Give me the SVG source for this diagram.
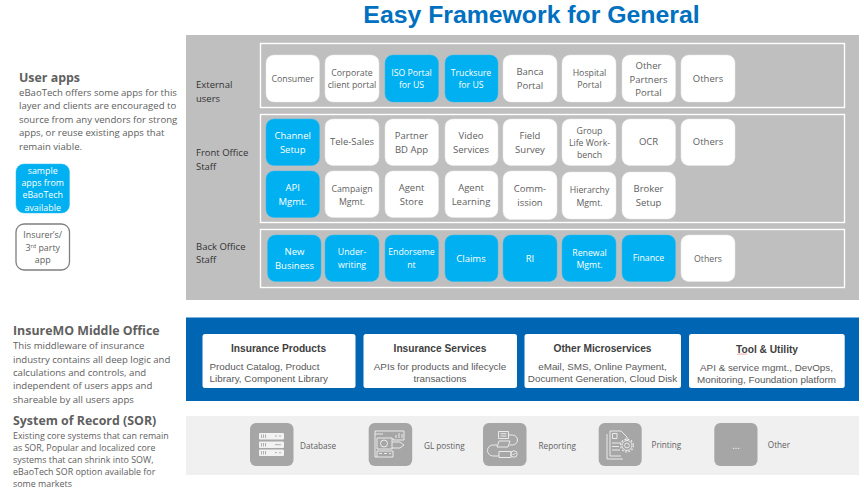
<svg xmlns="http://www.w3.org/2000/svg" width="864" height="489" viewBox="0 0 864 489">
<defs>
<style>
text{font-family:"Open Sans","Noto Sans",sans-serif;fill:#606060;font-size:9.5px}
.c{text-anchor:middle}
.t{font-size:8.750px}
.w{fill:#fff}
.k{fill:#333}
.h{font-size:12.400px;font-weight:700}
.b{font-size:9.600px}
.d{font-size:8.900px}
.l{font-size:8.900px}
.f{font-size:8.200px}
.a{font-family:"Liberation Sans",Arial,sans-serif}
.at{font-family:"Liberation Sans",Arial,sans-serif;font-size:10.200px;font-weight:700;text-anchor:middle;fill:#404040}
.ab{font-family:"Liberation Sans",Arial,sans-serif;font-size:9.850px;fill:#595959}
.n{fill:#fff;stroke:#e8e8e8;stroke-width:.5}
.s{fill:#00b0f0;stroke:#33bdf0;stroke-width:.5}
.row{fill:none;stroke:#fff;stroke-width:1.4}
.card{fill:#fff}
.ic{fill:#a6a6a6}
.il{fill:none;stroke:#f2f2f2;stroke-width:.9}
.if{fill:#f2f2f2}
</style>
</defs>
<rect width="864" height="489" fill="#fff"/>
<text id="title" x="531.500" y="23" class="c a" style="font-size:24.800px;font-weight:700;fill:#0070c0">Easy Framework for General</text>

<g id="user-apps-text">
<text x="19" y="82" class="h">User apps</text>
<text class="b" x="19" y="96">eBaoTech offers some apps for this</text>
<text class="b" x="19" y="109">layer and clients are encouraged to</text>
<text class="b" x="19" y="123">source from any vendors for strong</text>
<text class="b" x="19" y="136">apps, or reuse existing apps that</text>
<text class="b" x="19" y="150">remain viable.</text>
</g>
<g id="legend-sample">
<rect x="16" y="164" width="53.500" height="49" rx="8" class="s"/>
<text class="c w l" x="42.700" y="174">sample</text>
<text class="c w l" x="42.700" y="186">apps from</text>
<text class="c w l" x="42.700" y="198">eBaoTech</text>
<text class="c w l" x="42.700" y="210.500">available</text>
</g>
<g id="legend-insurer">
<rect x="16" y="224" width="53.500" height="46" rx="8" fill="#fff" stroke="#7f7f7f" stroke-width="1.300"/>
<text class="c l" x="42.700" y="238">Insurer’s/</text>
<text class="c l" x="42.700" y="250.500">3<tspan font-size="5.500" dy="-3">rd</tspan><tspan dy="3"> party</tspan></text>
<text class="c l" x="42.700" y="263">app</text>
</g>

<g id="user-panel">
<rect x="186" y="35" width="673" height="265" fill="#bfbfbf"/>
<rect x="260.500" y="43.500" width="584" height="64" class="row"/>
<rect x="260.500" y="114.500" width="584" height="108" class="row"/>
<rect x="260.500" y="229.500" width="584" height="58" class="row"/>
<text class="k" x="196" y="88">External</text>
<text class="k" x="196" y="102">users</text>
<text class="k" x="196" y="156">Front Office</text>
<text class="k" x="196" y="170">Staff</text>
<text class="k" x="196" y="250">Back Office</text>
<text class="k" x="196" y="263">Staff</text>
</g>

<g id="n-consumer"><rect x="266" y="55" width="53.500" height="47" rx="8" class="n"/><text class="c t" x="292.700" y="82">Consumer</text></g>
<g id="n-corporate"><rect x="325" y="55" width="54" height="47" rx="8" class="n"/><text class="c t" x="352" y="76">Corporate</text><text class="c t" x="352" y="88">client portal</text></g>
<g id="n-iso"><rect x="385" y="55" width="53.500" height="47" rx="8" class="s"/><text class="c w t" x="411.500" y="76">ISO Portal</text><text class="c w t" x="411.500" y="88">for US</text></g>
<g id="n-trucksure"><rect x="445" y="55" width="53" height="47" rx="8" class="s"/><text class="c w t" x="471" y="76">Trucksure</text><text class="c w t" x="471" y="88">for US</text></g>
<g id="n-banca"><rect x="503" y="55" width="54" height="47" rx="8" class="n"/><text class="c" x="530" y="75">Banca</text><text class="c" x="530" y="89">Portal</text></g>
<g id="n-hospital"><rect x="562" y="55" width="54" height="47" rx="8" class="n"/><text class="c t" x="589.500" y="76">Hospital</text><text class="c t" x="589.500" y="88">Portal</text></g>
<g id="n-other-partners"><rect x="622" y="55" width="53.500" height="47" rx="8" class="n"/><text class="c" x="648.500" y="69">Other</text><text class="c" x="648.500" y="83">Partners</text><text class="c" x="648.500" y="96">Portal</text></g>
<g id="n-others-1"><rect x="681" y="55" width="54" height="47" rx="8" class="n"/><text class="c" x="708" y="82">Others</text></g>

<g id="n-channel"><rect x="266" y="119" width="53.500" height="46.500" rx="8" class="s"/><text class="c w" x="292.700" y="139">Channel</text><text class="c w" x="292.700" y="153">Setup</text></g>
<g id="n-telesales"><rect x="325" y="119" width="54" height="46.500" rx="8" class="n"/><text class="c" x="352" y="145">Tele-Sales</text></g>
<g id="n-partner"><rect x="385" y="119" width="53.500" height="46.500" rx="8" class="n"/><text class="c" x="411.500" y="139">Partner</text><text class="c" x="411.500" y="153">BD App</text></g>
<g id="n-video"><rect x="445" y="119" width="53" height="46.500" rx="8" class="n"/><text class="c" x="471" y="139">Video</text><text class="c" x="471" y="153">Services</text></g>
<g id="n-field"><rect x="503" y="119" width="54" height="46.500" rx="8" class="n"/><text class="c" x="530" y="139">Field</text><text class="c" x="530" y="153">Survey</text></g>
<g id="n-group"><rect x="562" y="119" width="54" height="46.500" rx="8" class="n"/><text class="c t" x="589.500" y="134">Group</text><text class="c t" x="589.500" y="145.500">Life Work-</text><text class="c t" x="589.500" y="158">bench</text></g>
<g id="n-ocr"><rect x="622" y="119" width="53.500" height="46.500" rx="8" class="n"/><text class="c" x="648.500" y="145">OCR</text></g>
<g id="n-others-2"><rect x="681" y="119" width="54" height="46.500" rx="8" class="n"/><text class="c" x="708" y="145">Others</text></g>

<g id="n-api"><rect x="266" y="171" width="53.500" height="46.500" rx="8" class="s"/><text class="c w" x="292.700" y="191">API</text><text class="c w" x="292.700" y="205">Mgmt.</text></g>
<g id="n-campaign"><rect x="325" y="171" width="54" height="46.500" rx="8" class="n"/><text class="c t" x="352" y="192">Campaign</text><text class="c t" x="352" y="205">Mgmt.</text></g>
<g id="n-agent-store"><rect x="385" y="171" width="53.500" height="46.500" rx="8" class="n"/><text class="c" x="411.500" y="191">Agent</text><text class="c" x="411.500" y="205">Store</text></g>
<g id="n-agent-learning"><rect x="445" y="171" width="53" height="46.500" rx="8" class="n"/><text class="c" x="471" y="191">Agent</text><text class="c" x="471" y="205">Learning</text></g>
<g id="n-commission"><rect x="503" y="171" width="54" height="48.500" rx="8" class="n"/><text class="c" x="530" y="192">Comm-</text><text class="c" x="530" y="206">ission</text></g>
<g id="n-hierarchy"><rect x="562" y="172" width="54" height="47" rx="8" class="n"/><text class="c t" x="589.500" y="193">Hierarchy</text><text class="c t" x="589.500" y="206">Mgmt.</text></g>
<g id="n-broker"><rect x="622" y="172" width="53.500" height="47" rx="8" class="n"/><text class="c" x="648.500" y="192">Broker</text><text class="c" x="648.500" y="206">Setup</text></g>

<g id="n-new-business"><rect x="267.500" y="235" width="53.500" height="46.500" rx="8" class="s"/><text class="c w" x="294.500" y="255">New</text><text class="c w" x="294.500" y="269">Business</text></g>
<g id="n-underwriting"><rect x="325" y="235" width="54" height="46.500" rx="8" class="s"/><text class="c w t" x="352" y="255">Under-</text><text class="c w t" x="352" y="268">writing</text></g>
<g id="n-endorsement"><rect x="385" y="235" width="53.500" height="46.500" rx="8" class="s"/><text class="c w t" x="411.500" y="255">Endorseme</text><text class="c w t" x="411.500" y="268">nt</text></g>
<g id="n-claims"><rect x="445" y="235" width="53" height="46.500" rx="8" class="s"/><text class="c w" x="471" y="262">Claims</text></g>
<g id="n-ri"><rect x="503" y="235" width="54" height="46.500" rx="8" class="s"/><text class="c w" x="530" y="262">RI</text></g>
<g id="n-renewal"><rect x="562" y="235" width="54" height="46.500" rx="8" class="s"/><text class="c w t" x="589.500" y="256">Renewal</text><text class="c w t" x="589.500" y="268">Mgmt.</text></g>
<g id="n-finance"><rect x="622" y="235" width="53.500" height="46.500" rx="8" class="s"/><text class="c w t" x="648.500" y="261">Finance</text></g>
<g id="n-others-3"><rect x="681" y="235" width="54" height="46.500" rx="8" class="n"/><text class="c t" x="708" y="262">Others</text></g>

<g id="middle-office-text">
<text x="13" y="335" class="h">InsureMO Middle Office</text>
<text class="b" x="13" y="349">This middleware of insurance</text>
<text class="b" x="13" y="363">industry contains all deep logic and</text>
<text class="b" x="13" y="376">calculations and controls, and</text>
<text class="b" x="13" y="389">independent of users apps and</text>
<text class="b" x="13" y="403">shareable by all users apps</text>
</g>
<g id="sor-text">
<text x="13" y="425" class="h">System of Record (SOR)</text>
<text class="d" x="13" y="439">Existing core systems that can remain</text>
<text class="d" x="13" y="451">as SOR, Popular and localized core</text>
<text class="d" x="13" y="463">systems that can shrink into SOW,</text>
<text class="d" x="13" y="475">eBaoTech SOR option available for</text>
<text class="d" x="13" y="487">some markets</text>
</g>

<rect id="middle-panel" x="186" y="317.500" width="673" height="83.500" fill="#0066b3"/>
<g id="card-products"><rect x="202.500" y="334" width="153" height="54" rx="2.500" class="card"/><text class="at" x="278.500" y="352">Insurance Products</text><text class="ab" x="209.500" y="370">Product Catalog, Product</text><text class="ab" x="209.500" y="382">Library, Component Library</text></g>
<g id="card-services"><rect x="363.500" y="334" width="153.500" height="54" rx="2.500" class="card"/><text class="at" x="440" y="352">Insurance Services</text><text class="ab" x="440" y="370" text-anchor="middle">APIs for products and lifecycle</text><text class="ab" x="440" y="382" text-anchor="middle">transactions</text></g>
<g id="card-micro"><rect x="524.500" y="334" width="156.500" height="54" rx="2.500" class="card"/><text class="at" x="602.500" y="352">Other Microservices</text><text class="ab" x="602.500" y="370" text-anchor="middle">eMail, SMS, Online Payment,</text><text class="ab" x="602.500" y="382" text-anchor="middle">Document Generation, Cloud Disk</text></g>
<g id="card-tool"><rect x="689" y="334" width="155.700" height="54" rx="2.500" class="card"/><text class="at" x="767" y="353">Tool &amp; Utility</text><path d="M737 354.500l1-.8 1 .8 1-.8 1 .8 1-.8 1 .8 1-.8 1 .8 1-.8 1 .8" fill="none" stroke="#e05050" stroke-width=".5"/><text class="ab" x="766.500" y="371" text-anchor="middle">API &amp; service mgmt., DevOps,</text><text class="ab" x="766.500" y="383" text-anchor="middle">Monitoring, Foundation platform</text></g>

<rect id="sor-panel" x="186" y="416" width="673" height="59" fill="#f0f0f0"/>

<g id="sor-database">
<rect x="250" y="423" width="43.500" height="43" rx="6" class="ic"/>
<rect x="259" y="433" width="25" height="6.500" rx="1" class="if"/><rect x="259" y="441.500" width="25" height="6.500" rx="1" class="if"/><rect x="259" y="449.500" width="25" height="6.500" rx="1" class="if"/>
<path d="M261.500 434.500v3.500M263.500 434.500v3.500M265.500 434.500v3.500M261.500 443v3.500M263.500 443v3.500M265.500 443v3.500M261.500 451v3.500M263.500 451v3.500M265.500 451v3.500M275 436h2M279 436h2M275 444.700h6M275 452.700h2M279 452.700h2" fill="none" stroke="#a6a6a6" stroke-width=".9"/>
<text class="f" x="300" y="449">Database</text>
</g>
<g id="sor-gl">
<rect x="368.700" y="423" width="43.500" height="43" rx="6" class="ic"/>
<path class="il" d="M375 431h29v9h-11v-2M375 431v26M375 434h8M375 457h18v-6h-16v6M379 453.500h3M384 453.500h3M389 453.500h2M377 438h15v11h-15zM392 442h8l4 3-4 3h-8M396 435v3M399 433v5M402 434v4"/>
<circle cx="384" cy="443.500" r="3.500" class="il"/>
<text class="f" x="424" y="449">GL posting</text>
</g>
<g id="sor-reporting">
<rect x="483" y="423" width="43.500" height="43" rx="6" class="ic"/>
<path class="il" d="M498.500 431.500h10v7h-10zM500.500 433.700h6M500.500 436h6M508.500 435h4a5 5 0 0 1 0 10h-3M499 441h11l-2 6h-11zM497 445h-4a5 5 0 0 0 0 11h6M499 451.500h12v6h-12z"/>
<circle cx="514" cy="454" r="3.200" class="il"/>
<path class="il" d="M512.500 454l1 1 2-2"/>
<text class="f" x="538.500" y="449">Reporting</text>
</g>
<g id="sor-printing">
<rect x="598.700" y="423" width="43" height="43" rx="6" class="ic"/>
<path class="il" d="M610 431h11l6 6v4M610 431v25h11M607 434v25h16M612.500 433.500h4.500v5h-4.500zM612 443h9M612 446.500h7M612 450h8"/>
<circle cx="627" cy="445.500" r="5" class="il"/><circle cx="627" cy="445.500" r="2.400" class="il"/>
<circle cx="627" cy="445.500" r="6.400" fill="none" stroke="#f2f2f2" stroke-width="1.200" stroke-dasharray="1.600 1.750"/>
<text class="f" x="651.500" y="448">Printing</text>
</g>
<g id="sor-other">
<rect x="714.300" y="423" width="43.200" height="43" rx="6" class="ic"/>
<text class="c w" x="736" y="449">...</text>
<text class="f" x="767.800" y="448">Other</text>
</g>
</svg>
